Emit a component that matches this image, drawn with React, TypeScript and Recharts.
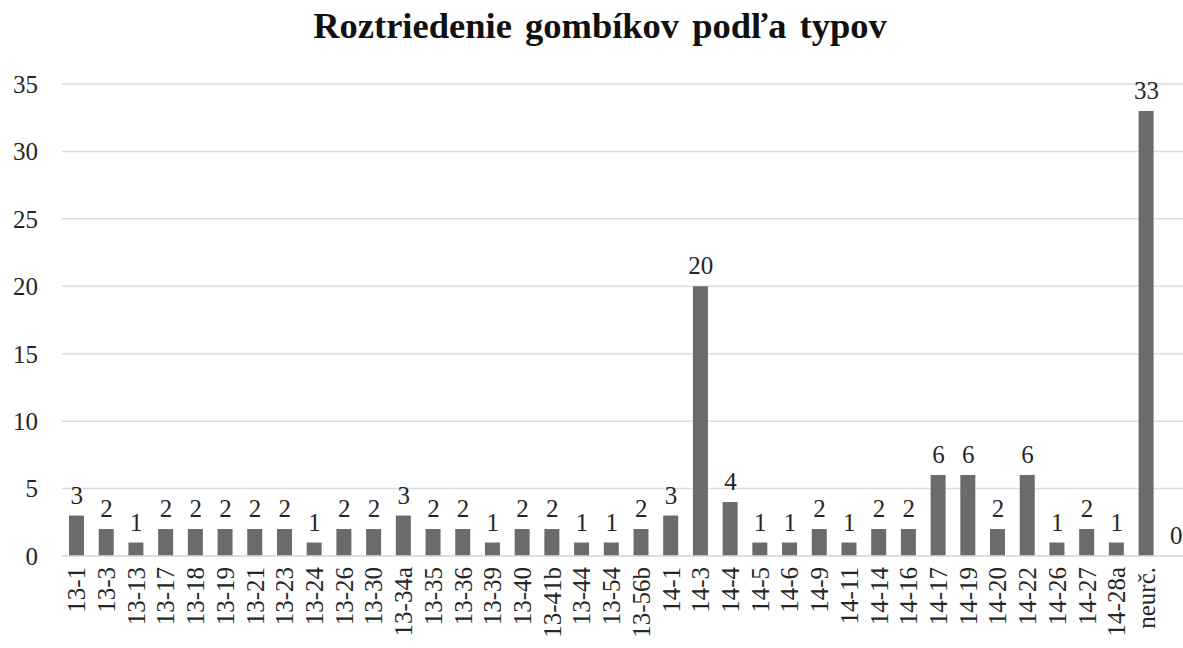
import { Bar, CartesianGrid, ComposedChart, LabelList, Line, XAxis, YAxis } from "recharts";

const typy = [
  "13-1", "13-3", "13-13", "13-17", "13-18", "13-19", "13-21", "13-23", "13-24", "13-26",
  "13-30", "13-34a", "13-35", "13-36", "13-39", "13-40", "13-41b", "13-44", "13-54", "13-56b",
  "14-1", "14-3", "14-4", "14-5", "14-6", "14-9", "14-11", "14-14", "14-16", "14-17",
  "14-19", "14-20", "14-22", "14-26", "14-27", "14-28a", "neurč.", "",
];
const pocty = [
  3, 2, 1, 2, 2, 2, 2, 2, 1, 2,
  2, 3, 2, 2, 1, 2, 2, 1, 1, 2,
  3, 20, 4, 1, 1, 2, 1, 2, 2, 6,
  6, 2, 6, 1, 2, 1, 33, 0,
];
const yTicks = [0, 5, 10, 15, 20, 25, 30, 35];

const FONT = '"Liberation Serif", "Times New Roman", serif';
const TEXT = "#262626";
const GRID = "#d9dde2";

const data = typy.map((typ, i) => ({ typ, pocet: pocty[i] }));

function RotatedTick({ x, y, payload }: { x?: number; y?: number; payload?: { value: string } }) {
  if (x == null || y == null) return null;
  const ty = y + 3;
  return (
    <text
      x={x}
      y={ty}
      transform={`rotate(-90 ${x} ${ty})`}
      textAnchor="end"
      dy="0.34em"
      fontFamily={FONT}
      fontSize={25}
      fill={TEXT}
    >
      {payload?.value}
    </text>
  );
}

// popis nad bodom neviditeľnej čiary, aby sa zobrazila aj nulová hodnota
function ValueLabel(props: any) {
  const { x, y, value } = props;
  if (x == null || y == null) return null;
  return (
    <text x={Number(x)} y={Number(y) - 12} textAnchor="middle" fontFamily={FONT} fontSize={25} fill={TEXT}>
      {value}
    </text>
  );
}

export default function App() {
  return (
    <div style={{ position: "absolute", left: 0, top: 0, width: 1183, height: 648, overflow: "hidden", background: "#fff" }}>
      <div
        style={{
          position: "absolute",
          left: 0,
          top: 6,
          width: 1200,
          textAlign: "center",
          fontFamily: FONT,
          fontWeight: "bold",
          fontSize: 36.5,
          lineHeight: "40px",
          wordSpacing: 4,
          color: "#111",
        }}
      >
        Roztriedenie gombíkov podľa typov
      </div>
      <ComposedChart
        width={1191}
        height={648}
        data={data}
        margin={{ top: 84, right: 0, bottom: 0, left: 0 }}
        barCategoryGap={0}
      >
        <CartesianGrid stroke={GRID} strokeWidth={1.5} vertical={false} />
        <XAxis
          dataKey="typ"
          interval={0}
          height={92}
          tickLine={false}
          axisLine={{ stroke: GRID, strokeWidth: 1.5 }}
          tick={<RotatedTick />}
        />
        <YAxis
          width={62}
          domain={[0, 35]}
          ticks={yTicks}
          interval={0}
          tickLine={false}
          axisLine={false}
          tickSize={0}
          tickMargin={24}
          tick={{ fontFamily: FONT, fontSize: 25, fill: TEXT }}
        />
        <Bar dataKey="pocet" fill="#6b6b6b" barSize={15} isAnimationActive={false} />
        <Line dataKey="pocet" stroke="none" dot={false} activeDot={false} isAnimationActive={false}>
          <LabelList dataKey="pocet" content={<ValueLabel />} />
        </Line>
      </ComposedChart>
    </div>
  );
}
